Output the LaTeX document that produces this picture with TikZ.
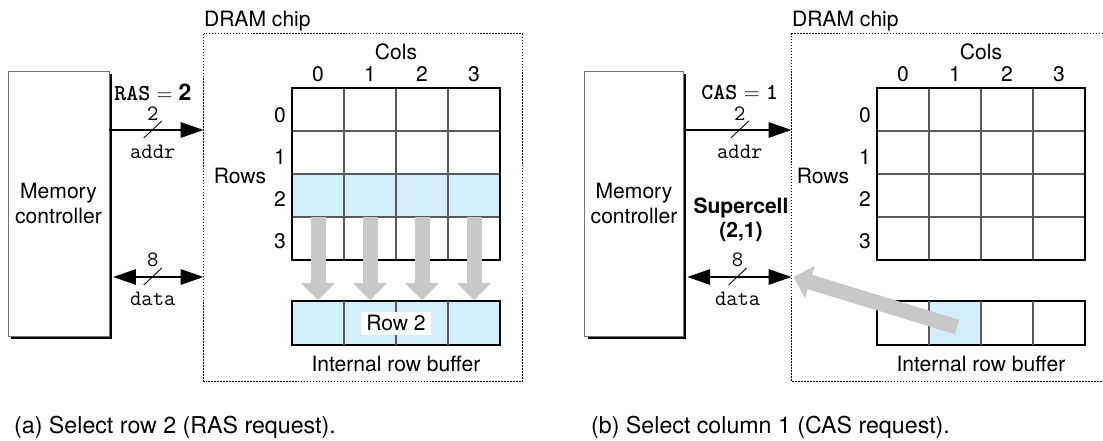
\documentclass[tikz,border=0pt]{standalone}
\usepackage{fontspec}
\setmainfont{TeX Gyre Heros}
\newfontfamily\ttdark{lmmonolt10-bold}[Extension=.otf]
\usetikzlibrary{positioning,arrows.meta,shadows}
\definecolor{cellblue}{RGB}{212,237,250}
\definecolor{movegray}{RGB}{200,200,202}

\begin{document}
\begin{tikzpicture}[x=0.02cm, y=-0.02cm,
    every node/.style={font=\fontsize{12}{14}\selectfont},
    ctrl/.style={draw=black!55, line width=0.5pt, fill=white, minimum height=5.3cm, align=center,
      drop shadow={shadow xshift=0.06cm, shadow yshift=-0.06cm, fill=black, opacity=1}},
    chipline/.style={line width=0.8pt, dash pattern=on 0.8pt off 0.9pt},
    bus/.style={line width=1.7pt, -{Triangle[length=0.46cm, width=0.3cm]}},
    bibus/.style={line width=1.7pt, {Triangle[length=0.46cm, width=0.3cm]}-{Triangle[length=0.46cm, width=0.3cm]}},
    ttlbl/.style={font=\fontsize{12.5}{14}\selectfont\ttfamily, inner sep=1pt},
    sellbl/.style={font=\fontsize{13}{14}\selectfont, inner sep=1pt},
    arr/.style={draw, line width=1.1pt, minimum width=4.16cm},
    gridline/.style={black!65, line width=0.6pt},
    fat/.style={movegray, line width=0.3cm, -{Triangle[length=0.34cm, width=0.66cm]}},
    captxt/.style={anchor=west, font=\fontsize{13.2}{16}\selectfont}]
  \useasboundingbox (0,0) rectangle (1103,440);

  % (a) row access
  \node[ctrl, minimum width=2.02cm] (mcA) at (58.5,203.5) {Memory\\controller};
  \node[minimum width=6.36cm, minimum height=6.94cm] (chipA) at (363,207.5) {};
  \draw[chipline] (chipA.north west) rectangle (chipA.south east);
  \node[anchor=base west, inner sep=0pt] (chipAlbl) at ([yshift=0.14cm]chipA.north west) {DRAM chip};

  \coordinate (addrA) at (0,130);
  \coordinate (dataA) at (0,277);
  \draw[bus] (mcA.east |- addrA) -- (chipA.west |- addrA) coordinate[pos=0.46] (addrAmid);
  \draw[line width=0.5pt] ([shift={(-9,8)}]addrAmid) -- ([shift={(9,-9)}]addrAmid);
  \node[ttlbl] at ([yshift=0.33cm]addrAmid) {2};
  \node[ttlbl] at ([yshift=-0.44cm]addrAmid) {addr};
  \node[sellbl] at ([yshift=0.76cm]addrAmid) {{\ttdark RAS} $=\mathbf{2}$};
  \draw[bibus, shorten <=0.07cm] (mcA.east |- dataA) -- (chipA.west |- dataA) coordinate[pos=0.46] (dataAmid);
  \draw[line width=0.5pt] ([shift={(-9,8)}]dataAmid) -- ([shift={(9,-9)}]dataAmid);
  \node[ttlbl] at ([yshift=0.34cm]dataAmid) {8};
  \node[ttlbl] at ([yshift=-0.44cm]dataAmid) {data};

  \fill[cellblue] (292,174) rectangle (500,217);
  \foreach \x in {344,396,448} \draw[gridline] (\x,88) -- (\x,260);
  \foreach \y in {131,174,217} \draw[gridline] (292,\y) -- (500,\y);
  \node[arr, minimum height=3.44cm] (gridA) at (396,174) {};
  \node (colsA) at (396,52) {Cols};
  \node (rowsA) at (240,176) {Rows};
  \foreach \i in {0,...,3} {
    \node at (318+52*\i,74) {\i};
    \node[anchor=east, inner sep=1pt] at (288,115+42*\i) {\i};
  }

  \node[arr, fill=cellblue, minimum height=0.88cm] (bufA) at (396,323) {};
  \foreach \x in {344,396,448} \draw[gridline] (\x,301) -- (\x,345);
  \node[fill=white, inner xsep=3pt, inner ysep=1pt, minimum height=0.46cm] (rowtwo) at (bufA) {Row 2};
  \node[below=0.08cm of bufA] (bufAlbl) {Internal row buffer};
  \foreach \x in {318,370,422,474}
    \draw[fat] (\x,217) -- (\x,0 |- bufA.north);

  % (b) column access
  \node[ctrl, minimum width=1.96cm] (mcB) at (634,203.5) {Memory\\controller};
  \node[minimum width=6.22cm, minimum height=6.94cm] (chipB) at (947.5,207.5) {};
  \draw[chipline] (chipB.north east) -- (chipB.north west) -- (chipB.south west) -- (chipB.south east);
  \node[anchor=base west, inner sep=0pt] (chipBlbl) at ([yshift=0.14cm]chipB.north west) {DRAM chip};

  \coordinate (addrB) at (0,130);
  \coordinate (dataB) at (0,277);
  \draw[bus] (mcB.east |- addrB) -- (chipB.west |- addrB) coordinate[pos=0.52] (addrBmid);
  \draw[line width=0.5pt] ([shift={(-9,8)}]addrBmid) -- ([shift={(9,-9)}]addrBmid);
  \node[ttlbl] at ([yshift=0.33cm]addrBmid) {2};
  \node[ttlbl] at ([yshift=-0.44cm]addrBmid) {addr};
  \node[sellbl] at ([yshift=0.76cm]addrBmid) {{\ttdark CAS} $=$ {\ttdark 1}};
  \draw[bibus, shorten <=0.07cm] (mcB.east |- dataB) -- (chipB.west |- dataB) coordinate[pos=0.5] (dataBmid);
  \draw[line width=0.5pt] ([shift={(-9,8)}]dataBmid) -- ([shift={(9,-9)}]dataBmid);
  \node[ttlbl] at ([yshift=0.34cm]dataBmid) {8};
  \node[ttlbl] at ([yshift=-0.44cm]dataBmid) {data};
  \node[align=center, font=\fontsize{12}{13.5}\selectfont\bfseries] (scB) at (741,220) {Supercell\\(2,1)};

  \foreach \x in {929,981,1033} \draw[gridline] (\x,88) -- (\x,260);
  \foreach \y in {131,174,217} \draw[gridline] (877,\y) -- (1085,\y);
  \node[arr, minimum height=3.44cm] (gridB) at (981,174) {};
  \node (colsB) at (981,52) {Cols};
  \node (rowsB) at (823,176) {Rows};
  \foreach \i in {0,...,3} {
    \node at (903+52*\i,74) {\i};
    \node[anchor=east, inner sep=1pt] at (873,115+42*\i) {\i};
  }

  \fill[cellblue] (929,301) rectangle (981,345);
  \node[arr, minimum height=0.88cm] (bufB) at (981,323) {};
  \foreach \x in {929,981,1033} \draw[gridline] (\x,301) -- (\x,345);
  \node[below=0.08cm of bufB] (bufBlbl) {Internal row buffer};
  \draw[fat] (957,327) -- ([xshift=0.04cm]chipB.west |- dataB);

  \node[captxt] (capA) at (8,427) {(a) Select row 2 (RAS request).};
  \node[captxt] (capB) at (585,427) {(b) Select column 1 (CAS request).};
\end{tikzpicture}
\end{document}
